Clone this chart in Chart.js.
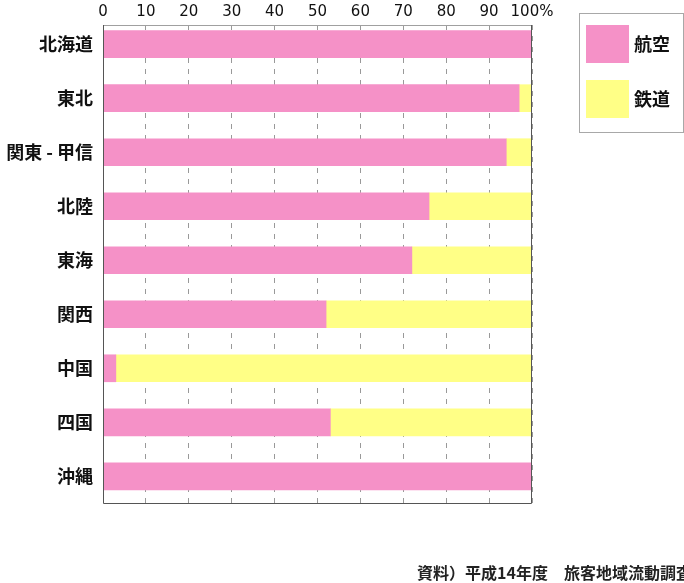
<!DOCTYPE html>
<html><head><meta charset="utf-8">
<script src="https://cdn.jsdelivr.net/npm/chart.js@4/dist/chart.umd.min.js"></script>
<style>html,body{margin:0;padding:0;background:#fff}#wrap{position:relative;width:684px;height:583px}</style>
</head><body><div id="wrap"><canvas id="c" width="684" height="583"></canvas></div>
<script>
const categories = ['北海道', '東北', '関東 - 甲信', '北陸', '東海', '関西', '中国', '四国', '沖縄'];
const airShare = [100, 97, 94, 76, 72, 52, 3, 53, 100];
const railShare = [0, 3, 6, 24, 28, 48, 97, 47, 0];
const seriesNames = ['航空', '鉄道'];
const seriesColors = ['#F591C7', '#FFFF86'];
const xTickLabels = ['0', '10', '20', '30', '40', '50', '60', '70', '80', '90', '100%'];
const sourceNote = '資料）平成14年度　旅客地域流動調査';

const CJK = '"Noto Sans CJK JP", "DejaVu Sans", sans-serif';

const framePlugin = {
  id: 'frame',
  afterDatasetsDraw(chart) {
    const a = chart.chartArea, ctx = chart.ctx;
    ctx.save();
    ctx.lineWidth = 1;
    ctx.strokeStyle = '#a0a0a0';
    ctx.beginPath(); ctx.moveTo(a.left, a.top + 0.5); ctx.lineTo(a.right, a.top + 0.5); ctx.stroke();
    ctx.strokeStyle = '#555';
    ctx.beginPath();
    ctx.moveTo(a.left + 0.5, a.top); ctx.lineTo(a.left + 0.5, a.bottom + 0.5);
    ctx.lineTo(a.right - 0.5, a.bottom + 0.5); ctx.lineTo(a.right - 0.5, a.top);
    ctx.stroke();
    ctx.restore();
  },
  afterDraw(chart) {
    const ctx = chart.ctx;
    ctx.save();
    ctx.strokeStyle = '#a8a8a8';
    ctx.lineWidth = 1;
    ctx.strokeRect(579.5, 13.5, 104, 119);
    chart.data.datasets.forEach((ds, i) => {
      const y = 25 + i * 55;
      ctx.fillStyle = ds.backgroundColor;
      ctx.fillRect(586, y, 43, 38);
      ctx.fillStyle = '#111';
      ctx.font = 'bold 18px ' + CJK;
      ctx.textAlign = 'left';
      ctx.textBaseline = 'middle';
      ctx.fillText(ds.label, 634, y + 19);
    });
    ctx.font = 'bold 16px ' + CJK;
    ctx.fillStyle = '#222';
    ctx.textAlign = 'left';
    ctx.textBaseline = 'middle';
    ctx.fillText(sourceNote, 417, 573);
    ctx.restore();
  }
};

new Chart(document.getElementById('c'), {
  type: 'bar',
  data: {
    datasets: [
      { label: seriesNames[0], data: airShare.map((v, i) => ({ x: v, y: i })), backgroundColor: seriesColors[0], borderWidth: 0, barThickness: 27 },
      { label: seriesNames[1], data: railShare.map((v, i) => ({ x: v, y: i })), backgroundColor: seriesColors[1], borderWidth: 0, barThickness: 27 }
    ]
  },
  options: {
    indexAxis: 'y',
    responsive: false,
    animation: false,
    layout: { padding: { left: 0, top: 0, right: 152, bottom: 80 } },
    plugins: { legend: { display: false }, tooltip: { enabled: false } },
    scales: {
      x: {
        type: 'linear', position: 'top', min: 0, max: 100, stacked: true,
        afterFit: s => { s.height = 25; },
        afterBuildTicks: s => { s.ticks = xTickLabels.map((_, i) => ({ value: i * 10 })); },
        ticks: { callback: (v, i) => xTickLabels[i], color: '#111', padding: 4, font: { family: '"DejaVu Sans", sans-serif', size: 15 }, maxRotation: 0, autoSkip: false },
        grid: { color: '#999', lineWidth: 1, drawTicks: false },
        border: { display: false, dash: [5, 6] }
      },
      y: {
        type: 'linear', reverse: true, min: -0.355, max: 8.494, stacked: true, offset: false,
        afterFit: s => { s.width = 103; },
        afterBuildTicks: s => { s.ticks = categories.map((_, i) => ({ value: i })); },
        ticks: { callback: (v) => categories[v], color: '#111', padding: 10, autoSkip: false, font: { family: CJK, size: 18, weight: 'bold' } },
        grid: { display: false, drawTicks: false, offset: false },
        border: { display: false }
      }
    }
  },
  plugins: [framePlugin]
});
</script>
</body></html>
